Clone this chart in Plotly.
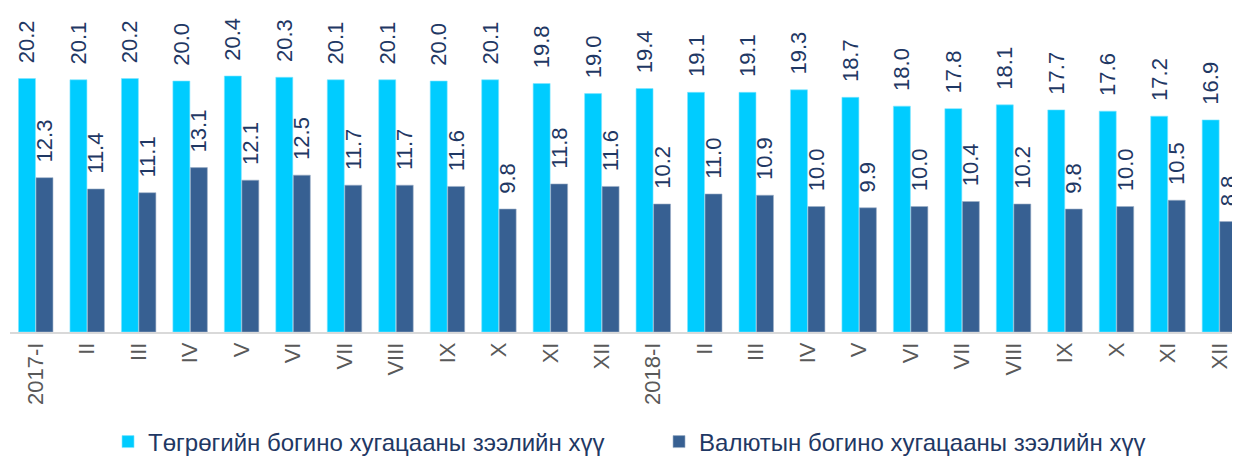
import plotly.graph_objects as go

categories = ["2017-I", "II", "III", "IV", "V", "VI", "VII", "VIII", "IX", "X", "XI", "XII",
              "2018-I", "II ", "III ", "IV ", "V ", "VI ", "VII ", "VIII ", "IX ", "X ", "XI ", "XII "]
tick_labels = ["2017-I", "II", "III", "IV", "V", "VI", "VII", "VIII", "IX", "X", "XI", "XII",
               "2018-I", "II", "III", "IV", "V", "VI", "VII", "VIII", "IX", "X", "XI", "XII"]
mnt_rate = [20.2, 20.1, 20.2, 20.0, 20.4, 20.3, 20.1, 20.1, 20.0, 20.1, 19.8, 19.0,
            19.4, 19.1, 19.1, 19.3, 18.7, 18.0, 17.8, 18.1, 17.7, 17.6, 17.2, 16.9]
fx_rate = [12.3, 11.4, 11.1, 13.1, 12.1, 12.5, 11.7, 11.7, 11.6, 9.8, 11.8, 11.6,
           10.2, 11.0, 10.9, 10.0, 9.9, 10.0, 10.4, 10.2, 9.8, 10.0, 10.5, 8.8]
series_names = ["Төгрөгийн богино хугацааны зээлийн хүү", "Валютын богино хугацааны зээлийн хүү"]

x_idx = list(range(len(categories)))
pad = "\u00a0\u00a0"
label_font = dict(family="Liberation Sans, Arial, sans-serif", size=22, color="#1F3864")

fig = go.Figure()
fig.add_trace(go.Bar(
    x=x_idx, y=mnt_rate, name=series_names[0],
    marker=dict(color="#00CCFF", line=dict(color="#7FE5FF", width=0.6)),
    text=[pad + f"{v:.1f}" for v in mnt_rate], textposition="outside", textangle=-90,
    textfont=label_font, cliponaxis=False, constraintext="none",
))
fig.add_trace(go.Bar(
    x=x_idx, y=fx_rate, name=series_names[1],
    marker=dict(color="#376092", line=dict(color="#9DB0C8", width=0.6)),
    text=[pad + f"{v:.1f}" for v in fx_rate], textposition="outside", textangle=-90,
    textfont=label_font, cliponaxis=False, constraintext="none",
))

# page body has an 8px margin, so the figure is 8px smaller than the window
fig.update_layout(
    width=1232, height=449,
    margin=dict(l=2, r=0, t=0, b=125, autoexpand=False),
    paper_bgcolor="white", plot_bgcolor="white",
    barmode="group", bargap=0.32, bargroupgap=0.03,
    showlegend=True,
    legend=dict(orientation="h", x=0.0797, xanchor="left", y=-0.3395, yanchor="middle",
                font=dict(family="Liberation Sans, Arial, sans-serif", size=24, color="#1F3864"),
                itemwidth=30, tracegroupgap=0, entrywidth=506),
    xaxis=dict(tickmode="array", tickvals=x_idx, ticktext=tick_labels, tickangle=-90,
               range=[-0.5, 23.4], showline=True, linecolor="#D9D9D9", linewidth=1.5,
               ticks="", showgrid=False, automargin=False,
               tickfont=dict(family="Liberation Sans, Arial, sans-serif", size=22, color="#595959")),
    yaxis=dict(range=[0, 25.82], visible=False, showgrid=False, zeroline=False, automargin=False),
)

fig.write_html("out.html")
